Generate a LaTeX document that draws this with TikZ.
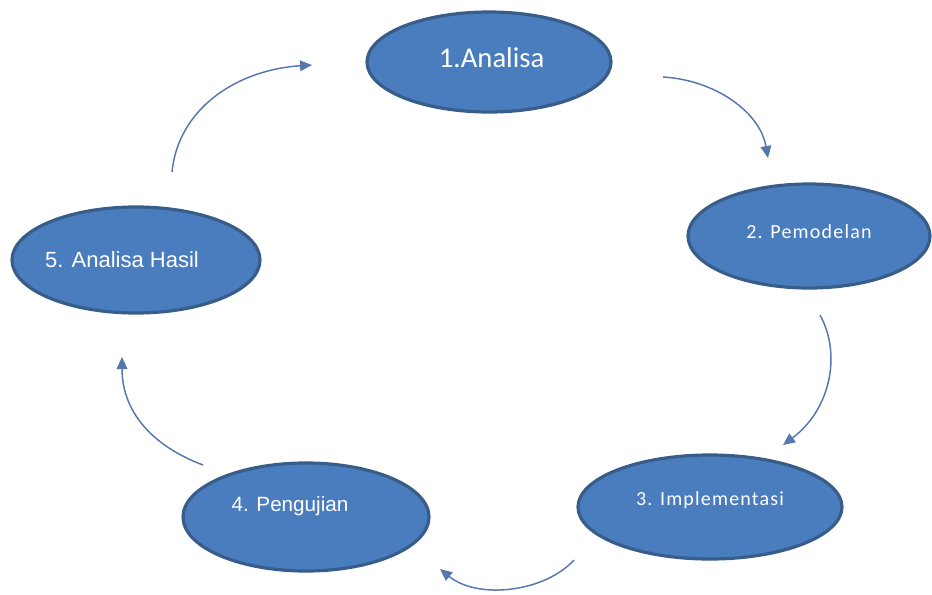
\documentclass[tikz,border=0pt]{standalone}
\usepackage{fontspec}
\setmainfont{Carlito}
\newfontfamily\arialf{Liberation Sans}
\usetikzlibrary{shapes.geometric,arrows.meta}
\definecolor{phasefill}{HTML}{4A7DBE}
\definecolor{phaseedge}{HTML}{385D8A}
\definecolor{arrowcol}{HTML}{5677AD}
\begin{document}
\begin{tikzpicture}[x=0.75pt,y=-0.75pt,
  phase/.style={ellipse,draw=phaseedge,fill=phasefill,line width=2.4pt,inner sep=0pt},
  phasetext/.style={text=white,inner sep=0pt},
  cyc/.style={draw=arrowcol,line width=1.1pt,-{Triangle[length=9pt,width=8pt]}}]
\useasboundingbox (0,0) rectangle (932,594);
\node[phase,minimum width=183pt,minimum height=75pt,
  label={[phasetext,xshift=2pt,yshift=3pt,font=\fontsize{21.5}{26}\selectfont]center:1.Analisa}] (n1) at (489,62) {};
\node[phase,minimum width=181.5pt,minimum height=78pt,
  label={[phasetext,yshift=3pt,font=\fontsize{15}{18}\selectfont\addfontfeatures{LetterSpace=6}]center:2. Pemodelan}] (n2) at (809,236) {};
\node[phase,minimum width=198pt,minimum height=78pt,
  label={[phasetext,yshift=5pt,font=\fontsize{15}{18}\selectfont\addfontfeatures{LetterSpace=6}]center:3. Implementasi}] (n3) at (710,507) {};
\node[phase,minimum width=184.5pt,minimum height=81pt,
  label={[phasetext,xshift=-12pt,yshift=8.5pt,font=\arialf\fontsize{15.5}{18}\selectfont]center:4. Pengujian}] (n4) at (306,517) {};
\node[phase,minimum width=186pt,minimum height=79.5pt,
  label={[phasetext,xshift=-10.5pt,font=\arialf\fontsize{16.5}{20}\selectfont]center:5. Analisa Hasil}] (n5) at (136,260) {};
% arrow end points
\coordinate (a1s) at (172,172); \coordinate (a1e) at (312,65);
\coordinate (a2s) at (663,77);  \coordinate (a2e) at (768,158);
\coordinate (a3s) at (820,315); \coordinate (a3e) at (783,445);
\coordinate (a4s) at (574,560); \coordinate (a4e) at (440,569);
\coordinate (a5s) at (203,465); \coordinate (a5e) at (122,357);
\draw[cyc] (a1s) .. controls (178,110) and (235,70) .. (a1e);
\draw[cyc] (a2s) .. controls (715,80) and (760,112) .. (a2e);
\draw[cyc] (a3s) .. controls (842,355) and (830,410) .. (a3e);
\draw[cyc] (a4s) .. controls (545,592) and (478,600) .. (a4e);
\draw[cyc] (a5s) .. controls (150,445) and (122,410) .. (a5e);
\end{tikzpicture}
\end{document}
